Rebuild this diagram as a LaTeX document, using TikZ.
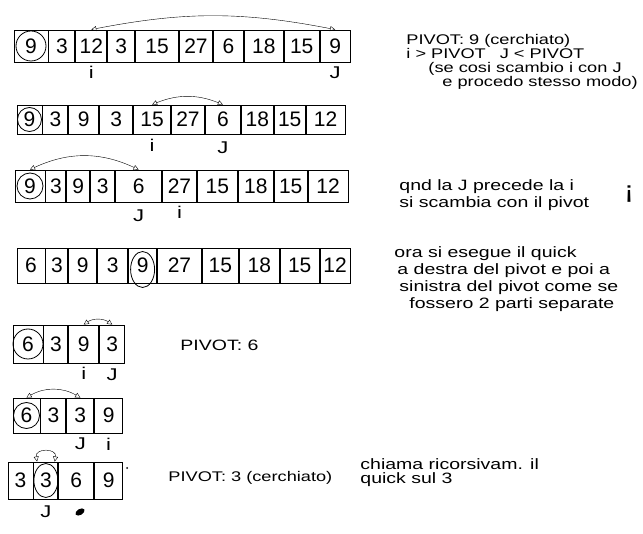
\documentclass[tikz,border=0pt]{standalone}
\usepackage{fontspec}
\setmainfont{Liberation Sans}
\newfontfamily\hand[FakeStretch=1.3]{Liberation Sans}
\usetikzlibrary{arrows.meta, positioning}

\begin{document}
\begin{tikzpicture}[
    x=1pt, y=-1pt,
    line width=0.9pt,
    cell/.style={draw, inner sep=0pt, minimum height=#1, font=\fontsize{21}{21}\selectfont},
    ptr/.style={font=\hand\fontsize{17}{17}\selectfont, inner sep=1pt},
    note/.style={font=\hand\fontsize{15}{17}\selectfont, align=left, anchor=north west, inner sep=0pt},
    swap/.style={{Triangle[open,length=5pt,width=5pt]}-{Triangle[open,length=5pt,width=5pt]}, thin},
    ring/.style={thick}
]
\useasboundingbox (0,0) rectangle (643,534);
% Row 1: pivot 9, i and J start
\node[cell=32pt, minimum width=34pt] (a1) at (31,46) {9};
\foreach \v/\w [count=\k from 2] in {3/26,12/31,3/27,15/43,27/33,6/30,18/39,15/35,9/30}
   {\pgfmathtruncatemacro\p{\k-1}
    \node[cell=32pt, minimum width=\w pt, right=0pt of a\p] (a\k) {\v};}
\node[ptr, below=2pt of a3]  (ai) {i};
\node[ptr, below=3pt of a10] (aj) {J};
\draw[ring] (a1) circle (15);
\draw[swap] (a3.north) to[bend left=11] (a10.north);
% Row 2: after first swap
\node[cell=29pt, minimum width=25pt] (b1) at (29.5,119.5) {9};
\foreach \v/\w [count=\k from 2] in {3/25,9/30,3/33,15/37,27/33,6/35,18/32,15/31,12/39}
   {\pgfmathtruncatemacro\p{\k-1}
    \node[cell=29pt, minimum width=\w pt, right=0pt of b\p] (b\k) {\v};}
\node[ptr, below=3pt of b5] (bi) {i};
\node[ptr, below=6pt of b7] (bj) {J};
\draw[ring] (b1) circle (12);
\draw[swap] (b5.north) to[bend left=22] (b7.north);
% Row 3: J before i, swap with pivot
\node[cell=32pt, minimum width=30pt] (c1) at (30,186) {9};
\foreach \v/\w [count=\k from 2] in {3/20,9/23,3/24,6/46,27/34,15/40,18/35,15/33,12/40}
   {\pgfmathtruncatemacro\p{\k-1}
    \node[cell=32pt, minimum width=\w pt, right=0pt of c\p] (c\k) {\v};}
\node[ptr, below=6pt of c5] (cj) {J};
\node[ptr, below=2pt of c6] (ci) {i};
\draw[ring] (c1) circle (13);
\draw[swap] (c1.north) to[bend left=25] (c5.north);
% Row 4: pivot in place
\node[cell=35pt, minimum width=28pt] (d1) at (31,265.5) {6};
\foreach \v/\w [count=\k from 2] in {3/22,9/28,3/30,9/28,27/44,15/36,18/40,15/39,12/30}
   {\pgfmathtruncatemacro\p{\k-1}
    \node[cell=35pt, minimum width=\w pt, right=0pt of d\p] (d\k) {\v};}
\draw[ring] ([yshift=-4pt]d5.center) ellipse (12 and 18);
% Row 5: left part, pivot 6
\node[cell=38pt, minimum width=30pt] (e1) at (28,344) {6};
\foreach \v/\w [count=\k from 2] in {3/24,9/30,3/25}
   {\pgfmathtruncatemacro\p{\k-1}
    \node[cell=38pt, minimum width=\w pt, right=0pt of e\p] (e\k) {\v};}
\node[ptr, below=2pt of e3] (ei) {i};
\node[ptr, below=4pt of e4] (ej) {J};
\draw[ring] (e1) circle (15);
\draw[swap] (e3.north) to[bend left=35] (e4.north);
% Row 6
\node[cell=35pt, minimum width=27pt] (f1) at (26.5,415.5) {6};
\foreach \v/\w [count=\k from 2] in {3/25,3/27,9/28}
   {\pgfmathtruncatemacro\p{\k-1}
    \node[cell=35pt, minimum width=\w pt, right=0pt of f\p] (f\k) {\v};}
\node[ptr, below=3pt of f3] (fj) {J};
\node[ptr, below=3pt of f4] (fi) {i};
\draw[ring] (f1) circle (13);
\draw[swap] (f1.north) to[bend left=30] (f3.north);
% Row 7: pivot 3
\node[cell=37pt, minimum width=25pt] (g1) at (20.5,480.5) {3};
\foreach \v/\w [count=\k from 2] in {3/24,6/35,9/28}
   {\pgfmathtruncatemacro\p{\k-1}
    \node[cell=37pt, minimum width=\w pt, right=0pt of g\p] (g\k) {\v};}
\node[ptr, below=5pt of g2] (gj) {J};
\draw[ring] (g2) ellipse (12 and 17);
\draw[swap] (g2.115) to[out=100, in=80, looseness=2] (g2.65);
\fill[rotate around={30:(80,512)}] (80,512) ellipse (5 and 3);
\fill (127,468) circle (1);
% notes
\node[note, font=\hand\fontsize{14}{14}\selectfont] (rule) at (406,34)
   {PIVOT: 9 (cerchiato)\\ i > PIVOT\quad J < PIVOT\\
    \hspace*{22pt}(se cosi scambio i con J\\ \hspace*{36pt}e procedo stesso modo)};
\node[note] (swapnote) at (399,179) {qnd la J precede la i\\ si scambia con il pivot};
\node[ptr, font=\hand\fontsize{24}{24}\selectfont] (bang) at (629,194) {¡};
\node[note] (quick) at (394,246)
   {ora si esegue il quick\\ \hspace*{3pt}a destra del pivot e poi a\\
    \hspace*{5pt}sinistra del pivot come se\\ \hspace*{15pt}fossero 2 parti separate};
\node[note, anchor=west] (piv6) at (180,345) {PIVOT: 6};
\node[note, anchor=west, font=\hand\fontsize{14}{14}\selectfont] (piv3) at (168,478) {PIVOT: 3 (cerchiato)};
\node[note, font=\hand\fontsize{15}{14}\selectfont] (rec) at (360,458) {chiama ricorsivam. il\\ quick sul 3};
\end{tikzpicture}
\end{document}
